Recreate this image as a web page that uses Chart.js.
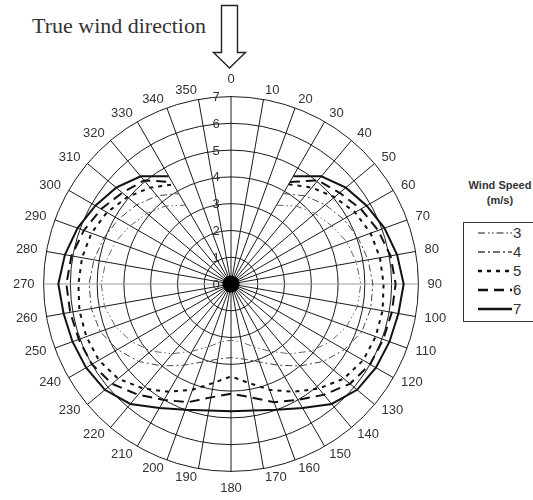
<!DOCTYPE html>
<html><head><meta charset="utf-8">
<script src="https://cdn.jsdelivr.net/npm/chart.js@4"></script>
<style>
body{margin:0;width:533px;height:500px;background:#fff;position:relative;overflow:hidden;font-family:"Liberation Sans",Arial,sans-serif;}
#title{position:absolute;left:32px;top:13px;font-family:"Liberation Serif","Times New Roman",serif;font-size:22px;color:#333;white-space:nowrap;}
#arrow{position:absolute;left:205px;top:0px;}
#wrap{position:absolute;left:0;top:73px;width:460px;height:424px;}
#lgTitle{position:absolute;left:461px;top:178px;width:78px;text-align:center;font-weight:bold;font-size:11px;color:#333;line-height:15px;}
#lgBox{position:absolute;left:463px;top:222px;width:90px;height:100px;border:1px solid #333;box-sizing:border-box;}
.row{position:absolute;left:14px;height:19px;display:flex;align-items:center;font-size:15px;color:#333;}
.row svg{display:block;}
</style>
</head><body>
<div id="title">True wind direction</div>
<svg id="arrow" width="50" height="72"><polygon points="16.5,5.5 32.5,5.5 32.5,52.5 40.5,52.5 24.5,68 8.5,52.5 16.5,52.5" fill="#fff" stroke="#222" stroke-width="1.4"/></svg>
<div id="wrap"><canvas id="c"></canvas></div>
<div id="lgTitle">Wind Speed<br>(m/s)</div>
<div id="lgBox"></div>
<script>
const directions = ['0','10','20','30','40','50','60','70','80','90','100','110','120','130','140','150','160','170','180','190','200','210','220','230','240','250','260','270','280','290','300','310','320','330','340','350'];
const tickLabels = ['0','1','2','3','4','5','6','7'];
const speeds = ['3','4','5','6','7'];
const ws3 = [null,null,null,3.4,3.8,4.1,4.35,4.6,4.75,4.85,4.8,4.6,4.3,3.9,3.4,2.9,2.5,2.2,2.1,2.2,2.5,2.9,3.4,3.9,4.3,4.6,4.8,4.85,4.75,4.6,4.35,4.1,3.8,3.4,null,null];
const ws4 = [null,null,null,3.9,4.3,4.6,4.85,5.05,5.2,5.3,5.3,5.2,4.9,4.5,4.0,3.5,3.1,2.85,2.75,2.85,3.1,3.5,4.0,4.5,4.9,5.2,5.3,5.3,5.2,5.05,4.85,4.6,4.3,3.9,null,null];
const ws5 = [null,null,null,4.3,4.7,5.05,5.35,5.55,5.65,5.7,5.75,5.75,5.7,5.5,5.1,4.65,4.2,3.75,3.45,3.75,4.2,4.65,5.1,5.5,5.7,5.75,5.75,5.7,5.65,5.55,5.35,5.05,4.7,4.3,null,null];
const ws6 = [null,null,null,4.4,5.05,5.3,5.6,5.85,6.05,6.15,6.1,6.05,6.0,5.8,5.4,5.0,4.7,4.3,4.1,4.3,4.7,5.0,5.4,5.8,6.0,6.05,6.1,6.15,6.05,5.85,5.6,5.3,5.05,4.4,null,null];
const ws7 = [null,null,null,4.65,5.25,5.6,5.85,6.1,6.3,6.45,6.35,6.3,6.25,6.15,5.85,5.35,5.0,4.8,4.75,4.8,5.0,5.35,5.85,6.15,6.25,6.3,6.35,6.45,6.3,6.1,5.85,5.6,5.25,4.65,null,null];

const seriesData = [ws3, ws4, ws5, ws6, ws7];
const styles = [
  {dash:[7,3,1.5,2.5,1.5,3], width:1, color:'#666'},
  {dash:[7,3,2,3], width:1, color:'#444'},
  {dash:[4,5], width:2, color:'#111'},
  {dash:[10,6], width:2, color:'#111'},
  {dash:[], width:2, color:'#111'}
];

const tickPlugin = {
  id:'tickText',
  afterUpdate(chart){
    // centre the direction labels vertically on their anchor (as in the original diagram)
    const s = chart.scales.r;
    const items = s._pointLabelItems || [];
    const n = items.length;
    items.forEach((it,i)=>{
      if (i === 0 || i === n/2 || i === n/4 || i === 3*n/4) return;
      const h = it.bottom - it.top;
      if (i < n/4 || i > 3*n/4) { it.y += h/2; } else { it.y -= h/2; }
    });
  },
  beforeDatasetsDraw(chart){
    const s = chart.scales.r, ctx = chart.ctx;
    ctx.save();
    ctx.fillStyle = '#000';
    ctx.beginPath();
    ctx.arc(s.xCenter, s.yCenter, s.getDistanceFromCenterForValue(0.32), 0, Math.PI*2);
    ctx.fill();
    ctx.restore();
  },
  afterDraw(chart){
    const s = chart.scales.r, ctx = chart.ctx;
    ctx.save();
    ctx.font = '13px "Liberation Sans", Arial, sans-serif';
    ctx.fillStyle = '#333';
    ctx.textAlign = 'center';
    ctx.textBaseline = 'middle';
    tickLabels.forEach(t => {
      const p = s.getPointPositionForValue(0, Number(t));
      ctx.fillText(t, p.x - 15, p.y + 1);
    });
    ctx.restore();
  }
};

new Chart(document.getElementById('c'), {
  type:'radar',
  data:{
    labels: directions,
    datasets: speeds.map((sp,i)=>({
      label: sp,
      data: seriesData[i],
      borderColor: styles[i].color,
      borderWidth: styles[i].width,
      borderDash: styles[i].dash,
      backgroundColor:'transparent',
      fill:false,
      pointRadius:0,
      pointHoverRadius:0,
      tension:0,
      spanGaps:false
    }))
  },
  options:{
    responsive:true,
    maintainAspectRatio:false,
    animation:false,
    events:[],
    layout:{padding:0},
    plugins:{legend:{display:false}, tooltip:{enabled:false}},
    scales:{
      r:{
        min:0, max:7,
        ticks:{stepSize:1, display:false},
        grid:{circular:true, color:'#1a1a1a', lineWidth:1},
        angleLines:{display:true, lineWidth:1, color:(ctx)=> (ctx.index===9||ctx.index===27) ? '#999' : '#1a1a1a'},
        pointLabels:{font:{family:'"Liberation Sans", Arial, sans-serif', size:13}, color:'#333', padding:9}
      }
    }
  },
  plugins:[tickPlugin]
});

// legend built from the series
const box = document.getElementById('lgBox');
speeds.forEach((sp,i)=>{
  const row = document.createElement('div');
  row.className='row';
  row.style.top = (i*19) + 'px';
  const st = styles[i];
  row.innerHTML = `<svg width="34" height="6"><line x1="0" y1="3" x2="34" y2="3" stroke="${st.color}" stroke-width="${st.width+0.3}" stroke-dasharray="${st.dash.join(',')}"/></svg><span style="margin-left:1px">${sp}</span>`;
  box.appendChild(row);
});
</script>
</body></html>
